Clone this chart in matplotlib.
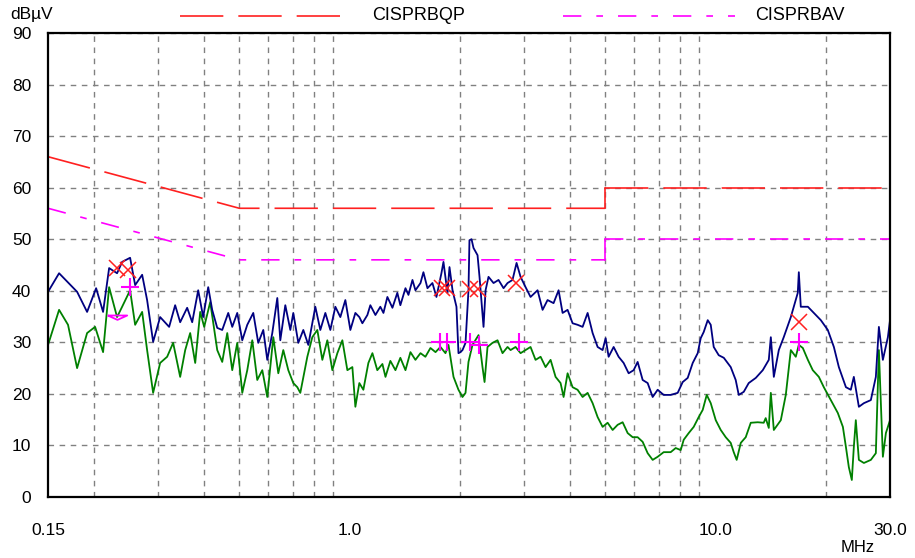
import numpy as np
import matplotlib
matplotlib.use("Agg")
import matplotlib.pyplot as plt
from matplotlib.lines import Line2D

plt.rcParams['font.family'] = ['Liberation Sans', 'DejaVu Sans']

# limit lines (MHz, dBuV)
qp_lim_f = [0.15, 0.5, 5.0, 5.0, 30.0]
qp_lim_v = [66, 56, 56, 60, 60]
av_lim_f = [0.15, 0.5, 5.0, 5.0, 30.0]
av_lim_v = [56, 46, 46, 50, 50]

# peak scan (blue)
pk_f = [0.150, 0.1608, 0.1801, 0.1918, 0.2030, 0.2121, 0.2203, 0.2316, 0.2391, 0.2514,
        0.2595, 0.2712, 0.2798, 0.2906, 0.3037, 0.3214, 0.3338, 0.3445, 0.3600, 0.3716,
        0.3859, 0.3982, 0.4110, 0.4214, 0.4350, 0.4489, 0.4662, 0.4781, 0.4934, 0.5092,
        0.5255, 0.5457, 0.5631, 0.5812, 0.5960, 0.6151, 0.6348, 0.6469, 0.6676, 0.6890,
        0.7020, 0.7245, 0.7477, 0.7716, 0.8064, 0.8322, 0.8589, 0.8863, 0.9147, 0.9439,
        0.9741, 1.0053, 1.0375, 1.0637, 1.0842, 1.119, 1.140, 1.177, 1.214, 1.238,
        1.269, 1.310, 1.351, 1.377, 1.422, 1.449, 1.486, 1.514, 1.563, 1.592,
        1.633, 1.685, 1.728, 1.783, 1.806, 1.852, 1.876, 1.912, 1.960, 1.985,
        2.010, 2.036, 2.075, 2.114, 2.127, 2.155, 2.182, 2.238, 2.266, 2.324,
        2.354, 2.398, 2.475, 2.554, 2.636, 2.703, 2.789, 2.861, 2.934, 3.028,
        3.124, 3.265, 3.370, 3.477, 3.611, 3.727, 3.822, 3.944, 4.070, 4.200,
        4.335, 4.474, 4.617, 4.765, 4.917, 5.011, 5.106, 5.270, 5.438, 5.612,
        5.792, 5.977, 6.129, 6.326, 6.528, 6.737, 6.952, 7.220, 7.546, 7.886,
        8.139, 8.399, 8.668, 8.945, 9.115, 9.289, 9.527, 9.709, 9.893, 10.21,
        10.54, 11.01, 11.36, 11.58, 11.95, 12.33, 12.89, 13.47, 13.99, 14.17,
        14.44, 14.90, 15.37, 16.07, 16.79, 16.90, 17.11, 17.89, 18.57, 19.41,
        20.28, 21.07, 21.74, 22.73, 23.44, 23.89, 24.66, 25.45, 26.59, 27.44,
        27.97, 28.68, 29.60, 30.0]
pk_v = [39.8, 43.4, 39.8, 35.9, 40.5, 35.9, 44.4, 43.4, 45.6, 46.4,
        41.1, 43.1, 38.2, 30.1, 34.9, 33.0, 37.2, 33.9, 36.7, 33.9,
        40.1, 34.9, 40.7, 36.3, 32.8, 32.4, 35.7, 33.0, 35.7, 30.4,
        33.4, 35.7, 29.9, 32.4, 26.6, 31.8, 38.6, 30.4, 37.2, 32.4,
        35.7, 29.9, 32.4, 29.5, 36.9, 32.4, 35.7, 32.4, 36.9, 34.9,
        38.2, 32.4, 35.7, 34.9, 33.7, 35.3, 37.2, 35.3, 36.9, 35.7,
        38.8, 36.7, 39.6, 37.2, 40.5, 39.2, 42.1, 40.1, 41.5, 43.6,
        40.5, 41.5, 38.8, 43.4, 45.6, 39.6, 44.6, 40.1, 36.9, 27.9,
        28.1, 28.5, 29.9, 40.1, 49.8, 50.0, 48.3, 46.9, 42.7, 33.0,
        40.1, 42.7, 41.5, 42.1, 40.5, 41.5, 42.1, 45.4, 42.7, 40.7,
        38.8, 40.1, 36.3, 38.2, 37.6, 40.1, 35.7, 36.3, 33.7, 33.4,
        33.0, 35.7, 31.8, 29.1, 28.5, 30.8, 27.2, 29.1, 27.2, 26.0,
        24.0, 24.6, 26.2, 22.7, 22.1, 19.4, 20.8, 19.8, 19.8, 20.2,
        22.3, 23.1, 26.0, 27.9, 30.8, 32.0, 34.3, 33.4, 29.1, 27.5,
        27.0, 25.2, 22.7, 19.8, 20.4, 22.1, 23.1, 24.6, 26.6, 31.0,
        23.3, 28.5, 31.0, 34.9, 39.6, 43.6, 36.9, 36.9, 35.7, 34.3,
        32.4, 29.1, 25.2, 21.3, 20.8, 23.3, 17.5, 18.2, 18.8, 23.3,
        33.0, 26.6, 31.0, 34.3]

# average scan (green)
avg_f = [0.150, 0.1608, 0.1701, 0.1801, 0.1918, 0.2017, 0.2121, 0.2203, 0.2316, 0.2391,
         0.2514, 0.2595, 0.2712, 0.2798, 0.2906, 0.3037, 0.3174, 0.3296, 0.3445, 0.3556,
         0.3669, 0.3787, 0.3908, 0.4007, 0.4162, 0.4350, 0.4489, 0.4633, 0.4781, 0.4934,
         0.5092, 0.5255, 0.5423, 0.5596, 0.5776, 0.5960, 0.6190, 0.6388, 0.6592, 0.6803,
         0.7020, 0.7200, 0.7337, 0.7668, 0.7913, 0.8166, 0.8428, 0.8697, 0.8975, 0.9263,
         0.9559, 0.9865, 1.0181, 1.0375, 1.0637, 1.091, 1.126, 1.155, 1.191, 1.230,
         1.254, 1.293, 1.335, 1.377, 1.422, 1.467, 1.514, 1.563, 1.612, 1.664,
         1.718, 1.772, 1.829, 1.864, 1.924, 1.985, 2.036, 2.075, 2.114, 2.168,
         2.224, 2.252, 2.309, 2.339, 2.383, 2.459, 2.538, 2.619, 2.703, 2.755,
         2.843, 2.934, 3.028, 3.124, 3.224, 3.328, 3.434, 3.544, 3.657, 3.774,
         3.846, 3.944, 4.070, 4.200, 4.335, 4.474, 4.617, 4.765, 4.917, 5.074,
         5.237, 5.404, 5.577, 5.756, 5.940, 6.129, 6.326, 6.528, 6.737, 6.952,
         7.220, 7.546, 7.788, 8.037, 8.190, 8.452, 8.722, 9.001, 9.231, 9.467,
         9.709, 10.02, 10.34, 10.67, 11.01, 11.22, 11.43, 11.73, 12.10, 12.49,
         13.05, 13.55, 13.72, 13.99, 14.17, 14.44, 15.09, 15.57, 16.07, 16.58,
         16.90, 17.33, 17.89, 18.45, 19.17, 19.78, 20.67, 21.60, 22.30, 22.73,
         23.15, 23.59, 23.89, 24.19, 24.66, 25.45, 26.59, 27.44, 27.97, 28.68,
         29.23, 30.0]
avg_v = [29.5, 36.3, 33.4, 25.0, 31.8, 33.0, 28.1, 40.7, 34.9, 36.9,
         40.1, 33.4, 35.9, 28.5, 20.2, 26.0, 27.2, 29.9, 23.3, 28.5,
         31.8, 26.0, 35.9, 33.0, 37.8, 28.5, 26.2, 31.8, 24.6, 29.9,
         20.2, 24.6, 30.4, 22.7, 24.6, 19.4, 31.0, 24.0, 28.5, 24.6,
         22.1, 21.3, 20.2, 27.2, 31.0, 32.4, 26.6, 30.4, 24.6, 27.9,
         30.4, 24.6, 25.2, 17.5, 22.1, 20.8, 26.0, 27.9, 24.6, 25.8,
         23.3, 26.4, 24.6, 27.0, 24.6, 28.1, 26.6, 27.9, 27.2, 28.9,
         28.1, 29.1, 27.9, 29.5, 23.3, 20.8, 19.4, 20.2, 26.2, 29.5,
         30.8, 31.4, 25.2, 22.3, 29.1, 29.9, 30.4, 27.9, 29.1, 28.5,
         29.1, 27.9, 28.5, 29.1, 26.6, 27.2, 25.2, 26.6, 23.3, 22.1,
         19.4, 24.0, 21.3, 20.8, 19.4, 20.2, 18.2, 15.5, 13.6, 14.4,
         13.0, 14.0, 14.5, 12.4, 11.6, 11.6, 10.7, 8.5, 7.2, 7.8,
         8.7, 8.7, 9.5, 9.1, 11.1, 12.4, 13.6, 15.5, 16.9, 19.8,
         18.2, 14.9, 13.0, 11.6, 10.5, 8.7, 7.2, 10.5, 11.6, 14.4,
         14.5, 14.4, 15.3, 13.4, 20.2, 13.0, 14.9, 19.8, 28.5, 27.2,
         29.5, 28.9, 26.6, 24.6, 23.3, 21.3, 18.8, 16.3, 13.6, 9.7,
         5.8, 3.3, 9.7, 14.9, 7.2, 6.6, 7.2, 8.5, 28.5, 7.8,
         12.4, 14.9]

# final measurements
qp_f = [0.2316, 0.2483, 1.795, 1.852, 2.13, 2.24, 2.843, 16.90]
qp_v = [44.4, 44.0, 40.5, 40.5, 40.3, 40.3, 41.5, 33.9]
av_f = [0.2514, 1.772, 1.852, 2.13, 2.252, 2.90, 16.90]
av_v = [40.7, 30.1, 30.1, 30.1, 29.5, 30.1, 30.1]
av_low_f = [0.2316]
av_low_v = [35.3]

grid_f = [0.2, 0.3, 0.4, 0.5, 0.6, 0.7, 0.8, 0.9, 1, 2, 3, 4, 5, 6, 7, 8, 9, 10, 20]
xtick_f = [0.15, 1.0, 10.0, 30.0]
xtick_lab = ['0.15', '1.0', '10.0', '30.0']

red = '#ff2020'
mag = '#ff00ff'
qp_dash = (26, 9)
av_dash = (11, 9, 4, 9)

fig = plt.figure(figsize=(9.15, 5.58), dpi=100)
ax = fig.add_axes([0.0525, 0.1093, 0.9202, 0.8316])

ax.set_xscale('log')
ax.set_xlim(0.15, 30)
ax.set_ylim(0, 90)

ax.set_xticks(xtick_f, xtick_lab)
ax.set_xticks(grid_f, minor=True)
ax.xaxis.set_minor_formatter(matplotlib.ticker.NullFormatter())
ax.set_yticks(range(0, 91, 10))
ax.tick_params(which='both', length=0, labelsize=12.5)
ax.tick_params(axis='x', pad=19)
ax.tick_params(axis='y', pad=12)

ax.grid(True, which='minor', axis='x', color='#808080', linestyle=(0, (4, 4)), linewidth=1)
ax.grid(True, which='major', axis='y', color='#808080', linestyle=(0, (4, 4)), linewidth=1)
for s in ax.spines.values():
    s.set_linewidth(1.6)
    s.set_zorder(10)

# limit lines: sloped/flat parts dashed, step at 5 MHz solid
ax.plot(qp_lim_f[:3], qp_lim_v[:3], color=red, linewidth=1.2, dashes=qp_dash)
ax.plot(qp_lim_f[2:4], qp_lim_v[2:4], color=red, linewidth=1.2)
ax.plot(qp_lim_f[3:], qp_lim_v[3:], color=red, linewidth=1.2, dashes=qp_dash)
ax.plot(av_lim_f[:3], av_lim_v[:3], color=mag, linewidth=1.2, dashes=av_dash)
ax.plot(av_lim_f[2:4], av_lim_v[2:4], color=mag, linewidth=1.2)
ax.plot(av_lim_f[3:], av_lim_v[3:], color=mag, linewidth=1.2, dashes=av_dash)

ax.plot(avg_f, avg_v, color='#008000', linewidth=1.3)
ax.plot(pk_f, pk_v, color='#000080', linewidth=1.3)

ax.plot(qp_f, qp_v, linestyle='none', marker='x', markersize=11, color=red, markeredgewidth=1.1)
ax.plot(av_f, av_v, linestyle='none', marker='+', markersize=13, color=mag, markeredgewidth=1.5)
ax.plot(av_low_f, av_low_v, linestyle='none', marker=[(-1, 0), (1, 0), (0, -0.45), (-1, 0)],
        markersize=14, color=mag, markerfacecolor='none', markeredgewidth=1.3)

# header legend
fig.add_artist(Line2D([180 / 915, 352 / 915], [1 - 16 / 558] * 2, color=red, linewidth=1.2, dashes=qp_dash))
fig.text(372 / 915, 1 - 16 / 558, 'CISPRBQP', fontsize=13, va='center', ha='left')
fig.add_artist(Line2D([563 / 915, 735 / 915], [1 - 16 / 558] * 2, color=mag, linewidth=1.2, dashes=av_dash))
fig.text(755 / 915, 1 - 16 / 558, 'CISPRBAV', fontsize=13, va='center', ha='left')

fig.text(10 / 915, 1 - 15 / 558, 'dBµV', fontsize=12.5, va='center', ha='left')
fig.text(858 / 915, 1 - 548 / 558, 'MHz', fontsize=12, va='center', ha='center')

fig.savefig('out.png', dpi=100)
